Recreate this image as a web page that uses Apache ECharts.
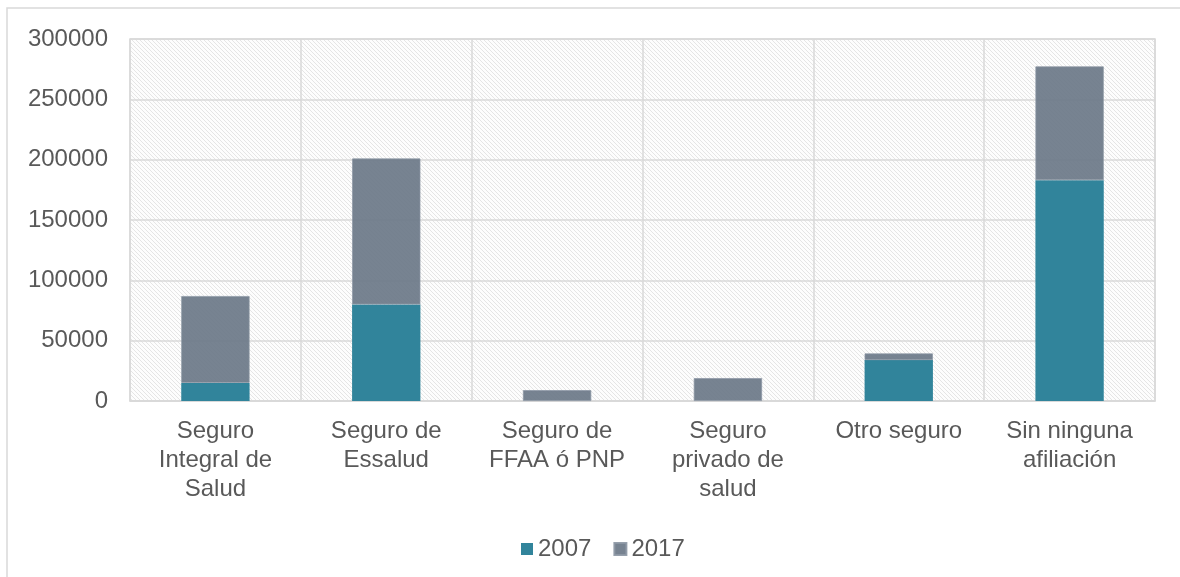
<!DOCTYPE html>
<html><head><meta charset="utf-8">
<script src="https://cdn.jsdelivr.net/npm/echarts@6/dist/echarts.min.js"></script>
<style>html,body{margin:0;padding:0;background:#fff}#c{width:1180px;height:577px}</style>
</head><body><div id="c"></div>
<script>
const categories = ['Seguro\nIntegral de\nSalud','Seguro de\nEssalud','Seguro de\nFFAA ó PNP','Seguro\nprivado de\nsalud','Otro seguro','Sin ninguna\nafiliación'];
const seriesNames = ['2007','2017'];
const values2007 = [15000, 80000, 0, 0, 33900, 183000];
const values2017 = [72000, 121000, 9000, 19000, 5500, 94300];
const yTicks = [0, 50000, 100000, 150000, 200000, 250000, 300000];

const N = 4;
const pc = document.createElement('canvas');
pc.width = N; pc.height = N;
const g = pc.getContext('2d');
const img = g.createImageData(N, N);
for (let y = 0; y < N; y++) for (let x = 0; x < N; x++) {
  const i = (y*N + x)*4;
  const on = (x === y);
  const v = on ? 229 : 253;
  img.data[i]=v; img.data[i+1]=v; img.data[i+2]=v; img.data[i+3]=255;
}
g.putImageData(img, 0, 0);

const chart = echarts.init(document.getElementById('c'), null, {renderer:'canvas'});
const font = 'Liberation Sans, Arial, sans-serif';
chart.setOption({
  animation:false,
  backgroundColor:'#fff',
  textStyle:{fontFamily:font},
  graphic:[{type:'rect',shape:{x:7,y:8,width:1200,height:600},style:{fill:'none',stroke:'#d9d9d9',lineWidth:1.5},silent:true,z:-1}],
  grid:{left:130,right:25,top:39,bottom:176,show:true,backgroundColor:{image:pc,repeat:'repeat'},borderColor:'#d9d9d9',borderWidth:1.5},
  legend:{data:seriesNames,left:516,top:532,itemWidth:12,itemHeight:12,itemGap:22,icon:'rect',
    textStyle:{fontSize:24,color:'#595959',fontFamily:font}},
  xAxis:{type:'category',data:categories,
    axisLine:{show:true,lineStyle:{color:'#d9d9d9',width:1.5}},axisTick:{show:false},
    splitLine:{show:true,lineStyle:{color:'#d9d9d9',width:1.5}},
    axisLabel:{fontSize:24,color:'#595959',lineHeight:29,margin:16,interval:0,fontFamily:font}},
  yAxis:{type:'value',min:yTicks[0],max:yTicks[yTicks.length-1],interval:50000,
    axisLine:{show:false},axisTick:{show:false},
    splitLine:{lineStyle:{color:'#d9d9d9',width:1.5}},
    axisLabel:{fontSize:24,color:'#595959',margin:22,fontFamily:font,formatter:v=>String(v)}},
  series:[
    {name:seriesNames[0],type:'bar',stack:'s',data:values2007,barWidth:'40%',
      itemStyle:{color:'#31849b'}},
    {name:seriesNames[1],type:'bar',stack:'s',data:values2017,barWidth:'40%',
      itemStyle:{color:'#6b7888',opacity:0.92,borderColor:'#8d98a5',borderWidth:0.8}}
  ]
});
</script></body></html>
